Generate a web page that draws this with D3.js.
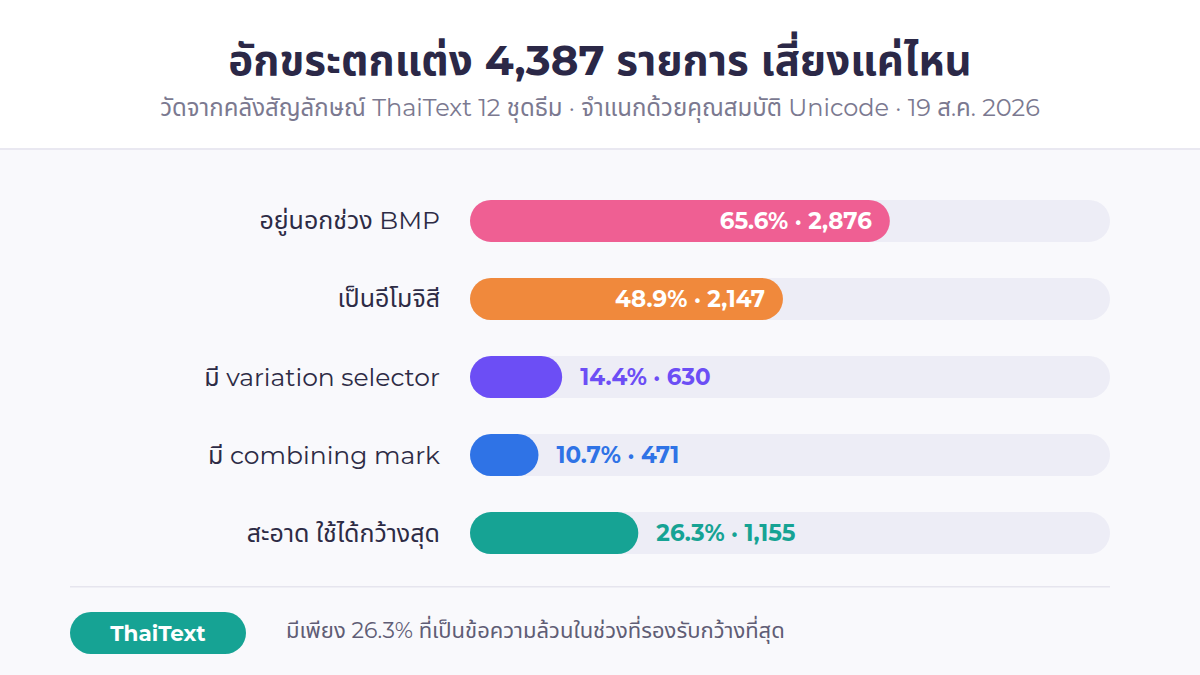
<!DOCTYPE html>
<html><head><meta charset="utf-8">
<script src="https://cdn.jsdelivr.net/npm/d3@7/dist/d3.min.js"></script>
<style>
html,body{margin:0;padding:0;background:#f9f9fc;}
svg{display:block;}
</style></head>
<body>
<svg id="c" width="1200" height="675"></svg>
<script>
const categories = ["อยู่นอกช่วง BMP","เป็นอีโมจิสี","มี variation selector","มี combining mark","สะอาด ใช้ได้กว้างสุด"];
const percents = [65.6, 48.9, 14.4, 10.7, 26.3];
const counts = [2876, 2147, 630, 471, 1155];
const colors = ["#ef5f93","#f0893c","#6c4ef5","#2f73e6","#16a394"];
const titleText = "อักขระตกแต่ง 4,387 รายการ เสี่ยงแค่ไหน";
const subtitleText = "วัดจากคลังสัญลักษณ์ ThaiText 12 ชุดธีม · จำแนกด้วยคุณสมบัติ Unicode · 19 ส.ค. 2026";
const badgeText = "ThaiText";
const footerText = "มีเพียง 26.3% ที่เป็นข้อความล้วนในช่วงที่รองรับกว้างที่สุด";

const FONT = "Montserrat, 'Noto Sans Thai', 'Noto Sans', Inter, sans-serif";
const svg = d3.select("#c");
const W = 1200, H = 675;

svg.append("rect").attr("x",0).attr("y",0).attr("width",W).attr("height",H).attr("fill","#f9f9fc");
svg.append("rect").attr("x",0).attr("y",0).attr("width",W).attr("height",149).attr("fill","#ffffff");
svg.append("rect").attr("x",0).attr("y",148).attr("width",W).attr("height",2).attr("fill","#e9e8f1");

svg.append("text").attr("x",600).attr("y",75).attr("text-anchor","middle")
  .attr("font-family",FONT).attr("font-weight",700).attr("font-size",42).attr("fill","#2b2847").text(titleText);
svg.append("text").attr("x",600).attr("y",116).attr("text-anchor","middle")
  .attr("font-family",FONT).attr("font-weight",400).attr("font-size",24).attr("fill","#7b7990").text(subtitleText);

const x = d3.scaleLinear().domain([0,100]).range([470,1110]);
const y = d3.scaleBand().domain(categories).range([182,572]).paddingInner(0.4615).paddingOuter(0.23);
const bh = 42;

const g = svg.append("g");
const rows = g.selectAll("g.row").data(categories).join("g").attr("class","row");
const yc = d => y(d) + y.bandwidth()/2;

rows.append("rect").attr("x",x(0)).attr("y",d=>yc(d)-bh/2).attr("width",x(100)-x(0)).attr("height",bh)
  .attr("rx",bh/2).attr("fill","#ededf6");
rows.append("rect").attr("x",x(0)).attr("y",d=>yc(d)-bh/2).attr("width",(d,i)=>x(percents[i])-x(0)).attr("height",bh)
  .attr("rx",bh/2).attr("fill",(d,i)=>colors[i]);
rows.append("text").attr("x",440).attr("y",d=>yc(d)+8.5).attr("text-anchor","end")
  .attr("font-family",FONT).attr("font-size",25).attr("fill","#2d2b45").text(d=>d);

const fmt = d3.format(",");
rows.append("text")
  .attr("x",(d,i)=> percents[i] > 30 ? x(percents[i]) - 18 : x(percents[i]) + 18)
  .attr("y",d=>yc(d)+8)
  .attr("text-anchor",(d,i)=> percents[i] > 30 ? "end" : "start")
  .attr("font-family",FONT).attr("font-weight",700).attr("font-size",23)
  .attr("fill",(d,i)=> percents[i] > 30 ? "#ffffff" : colors[i])
  .text((d,i)=> percents[i].toFixed(1) + "% · " + fmt(counts[i]));

svg.append("rect").attr("x",70).attr("y",586).attr("width",1040).attr("height",1.5).attr("fill","#e6e5ee");
svg.append("rect").attr("x",70).attr("y",612).attr("width",176).attr("height",42).attr("rx",21).attr("fill","#16a394");
svg.append("text").attr("x",158).attr("y",640.5).attr("text-anchor","middle")
  .attr("font-family",FONT).attr("font-weight",700).attr("font-size",21.5).attr("fill","#ffffff").text(badgeText);
svg.append("text").attr("x",286).attr("y",637.5)
  .attr("font-family",FONT).attr("font-size",22).attr("fill","#5f5d75").text(footerText);
</script>
</body></html>
